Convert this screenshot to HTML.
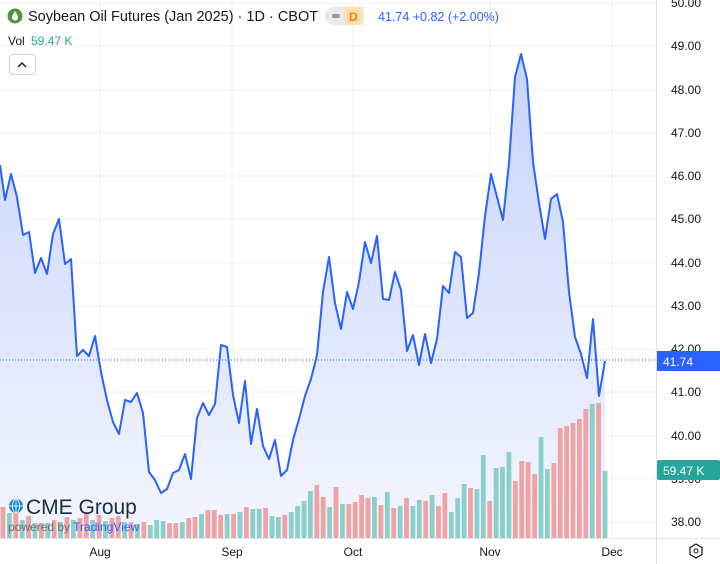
<!DOCTYPE html><html><head><style>
body{margin:0;width:720px;height:564px;overflow:hidden;background:#fff;font-family:"Liberation Sans",sans-serif;}
</style></head><body>
<svg width="720" height="564" xmlns="http://www.w3.org/2000/svg" style="position:absolute;left:0;top:0">
<defs><linearGradient id="g" x1="0" y1="0" x2="0" y2="1"><stop offset="0" stop-color="#c6d3fb"/><stop offset="1" stop-color="#f4f6fe"/></linearGradient></defs>
<g stroke="#f0f1f3" stroke-width="1">
<line x1="100" y1="0" x2="100" y2="538"/><line x1="232" y1="0" x2="232" y2="538"/><line x1="353" y1="0" x2="353" y2="538"/><line x1="490" y1="0" x2="490" y2="538"/><line x1="612" y1="0" x2="612" y2="538"/>
<line x1="0" y1="3" x2="656" y2="3"/><line x1="0" y1="46" x2="656" y2="46"/><line x1="0" y1="90" x2="656" y2="90"/><line x1="0" y1="133" x2="656" y2="133"/><line x1="0" y1="176" x2="656" y2="176"/><line x1="0" y1="219" x2="656" y2="219"/><line x1="0" y1="263" x2="656" y2="263"/><line x1="0" y1="306" x2="656" y2="306"/><line x1="0" y1="349" x2="656" y2="349"/><line x1="0" y1="392" x2="656" y2="392"/><line x1="0" y1="436" x2="656" y2="436"/><line x1="0" y1="479" x2="656" y2="479"/><line x1="0" y1="522" x2="656" y2="522"/>
</g>
<path fill="url(#g)" d="M0,165 L5,200 L11,174 L17,197 L23,235 L29,232 L35,273 L41,258 L47,274 L53,234 L59,219 L65,264 L71,259 L77,356 L83,350 L89,356 L95,336 L101,372 L107,400 L113,422 L119,434 L125,400 L131,402 L137,393 L143,413 L149,472 L155,480 L161,493 L167,489 L173,473 L179,470 L185,454 L191,479 L197,418 L203,403 L209,415 L215,404 L221,345 L227,347 L233,395 L239,423 L245,381 L251,444 L257,409 L263,446 L269,459 L275,440 L281,476 L287,470 L293,440 L299,419 L305,396 L311,379 L317,355 L323,292 L329,257 L335,303 L341,329 L347,292 L353,309 L359,282 L365,242 L371,263 L377,236 L383,299 L389,300 L395,272 L401,290 L407,351 L413,335 L419,365 L425,334 L431,363 L437,339 L443,286 L449,293 L455,252 L461,257 L467,318 L473,313 L479,273 L485,216 L491,174 L497,197 L503,220 L509,163 L515,77 L521,54 L527,79 L533,162 L539,203 L545,239 L551,199 L557,194 L563,222 L569,292 L575,337 L581,354 L587,378 L593,319 L599,396 L605,361 L605,538 L0,538 Z"/>
<g id="bars"></g>
<line x1="0" y1="360" x2="656" y2="360" stroke="#2962ff" stroke-width="1" stroke-dasharray="1,2"/>
<path fill="none" stroke="#2962ff" stroke-width="2" stroke-linejoin="round" d="M0,165 L5,200 L11,174 L17,197 L23,235 L29,232 L35,273 L41,258 L47,274 L53,234 L59,219 L65,264 L71,259 L77,356 L83,350 L89,356 L95,336 L101,372 L107,400 L113,422 L119,434 L125,400 L131,402 L137,393 L143,413 L149,472 L155,480 L161,493 L167,489 L173,473 L179,470 L185,454 L191,479 L197,418 L203,403 L209,415 L215,404 L221,345 L227,347 L233,395 L239,423 L245,381 L251,444 L257,409 L263,446 L269,459 L275,440 L281,476 L287,470 L293,440 L299,419 L305,396 L311,379 L317,355 L323,292 L329,257 L335,303 L341,329 L347,292 L353,309 L359,282 L365,242 L371,263 L377,236 L383,299 L389,300 L395,272 L401,290 L407,351 L413,335 L419,365 L425,334 L431,363 L437,339 L443,286 L449,293 L455,252 L461,257 L467,318 L473,313 L479,273 L485,216 L491,174 L497,197 L503,220 L509,163 L515,77 L521,54 L527,79 L533,162 L539,203 L545,239 L551,199 L557,194 L563,222 L569,292 L575,337 L581,354 L587,378 L593,319 L599,396 L605,361"/>
<line x1="0" y1="538.5" x2="720" y2="538.5" stroke="#e0e3eb"/>
<line x1="656.5" y1="0" x2="656.5" y2="564" stroke="#e0e3eb"/>
<g font-size="12" fill="#131722">
<text x="671" y="7">50.00</text><text x="671" y="50">49.00</text><text x="671" y="94">48.00</text><text x="671" y="137">47.00</text><text x="671" y="180">46.00</text><text x="671" y="223">45.00</text><text x="671" y="267">44.00</text><text x="671" y="310">43.00</text><text x="671" y="353">42.00</text><text x="671" y="396">41.00</text><text x="671" y="440">40.00</text><text x="671" y="483">39.00</text><text x="671" y="526">38.00</text>
<text x="100" y="556" text-anchor="middle">Aug</text><text x="232" y="556" text-anchor="middle">Sep</text><text x="353" y="556" text-anchor="middle">Oct</text><text x="490" y="556" text-anchor="middle">Nov</text><text x="612" y="556" text-anchor="middle">Dec</text>
</g>
<rect x="657" y="351" width="63" height="20" fill="#2962ff"/><text x="663" y="366" font-size="12" fill="#fff">41.74</text>
<rect x="657" y="460" width="63" height="20" fill="#26a69a" rx="2"/><text x="663" y="475" font-size="12" fill="#fff">59.47 K</text>
<polygon points="696,544 702,547.5 702,554.5 696,558 690,554.5 690,547.5" fill="none" stroke="#131722" stroke-width="1.2"/><circle cx="696" cy="551" r="2" fill="none" stroke="#131722"/>
<circle cx="15" cy="16" r="7.5" fill="#4a9a3a"/><path d="M15,11 C13,14 12,16 12,17.5 A3,3 0 0 0 18,17.5 C18,16 17,14 15,11Z" fill="#fff"/>
<text x="28" y="21" font-size="14.5" fill="#131722">Soybean Oil Futures (Jan 2025) · 1D · CBOT</text>
<rect x="325" y="7" width="38" height="18" rx="9" fill="#ebebeb"/><rect x="344" y="7" width="19" height="18" fill="#ffe0b2"/><rect x="352" y="7" width="12" height="18" rx="9" fill="#ffe0b2"/>
<rect x="332" y="14" width="8" height="4" rx="2" fill="#9598a1"/><text x="349" y="21" font-size="12" font-weight="bold" fill="#f57c00">D</text>
<text x="378" y="21" font-size="12.5" fill="#2962ff">41.74 +0.82 (+2.00%)</text>
<text x="8" y="45" font-size="12" fill="#131722">Vol</text><text x="31" y="45" font-size="12" fill="#26a69a">59.47 K</text>
<rect x="9.5" y="54.5" width="26" height="20" rx="3" fill="#fff" stroke="#d1d4dc"/><path d="M18,67 L22,63 L26,67" fill="none" stroke="#131722" stroke-width="1.4"/>
<circle cx="16" cy="506" r="7" fill="#1a8fc9"/><g stroke="#fff" stroke-width="0.8"><line x1="9" y1="506" x2="23" y2="506"/><line x1="16" y1="499" x2="16" y2="513"/><ellipse cx="16" cy="506" rx="3.5" ry="7" fill="none"/></g>
<text x="26" y="514" font-size="21" fill="#1a2b4a">CME Group</text>
<text x="8" y="531" font-size="12" fill="#6a6d78">powered by <tspan fill="#2962ff">TradingView</tspan></text>
</svg>
<script>
var d="r507 g513 r508 g520 r516 g523 r523 g523 r520 g522 r517 g520 r518 r512 g520 r515 g521 r518 r516 g522 r522 g524 r522 g525 g520 g521 r523 r523 g522 r518 r517 g514 r510 r510 r515 g514 r514 g512 r507 g509 g509 r508 g516 g517 r515 g512 g506 g501 g491 r485 r497 g507 r487 g504 r504 r502 r495 r498 g497 r505 g492 r508 g506 r498 g506 g500 r501 g495 r506 r493 g512 g498 g484 r488 g489 g455 r501 g468 g467 g452 r481 r461 r462 r474 g437 g469 r463 r428 r426 r423 r419 r409 g404 r403 g471".split(" ");
var s="",n=d.length,step=(605-3)/(n-1);
d.forEach(function(v,i){var x=3+i*step-2.4,t=+v.slice(1);s+='<rect x="'+x.toFixed(1)+'" y="'+t+'" width="4.8" height="'+(538-t)+'" fill="'+(v[0]=="r"?"#ef9a9a":"#80cbc4")+'" opacity="0.9"/>';});
document.getElementById("bars").innerHTML=s;
</script>
</body></html>
